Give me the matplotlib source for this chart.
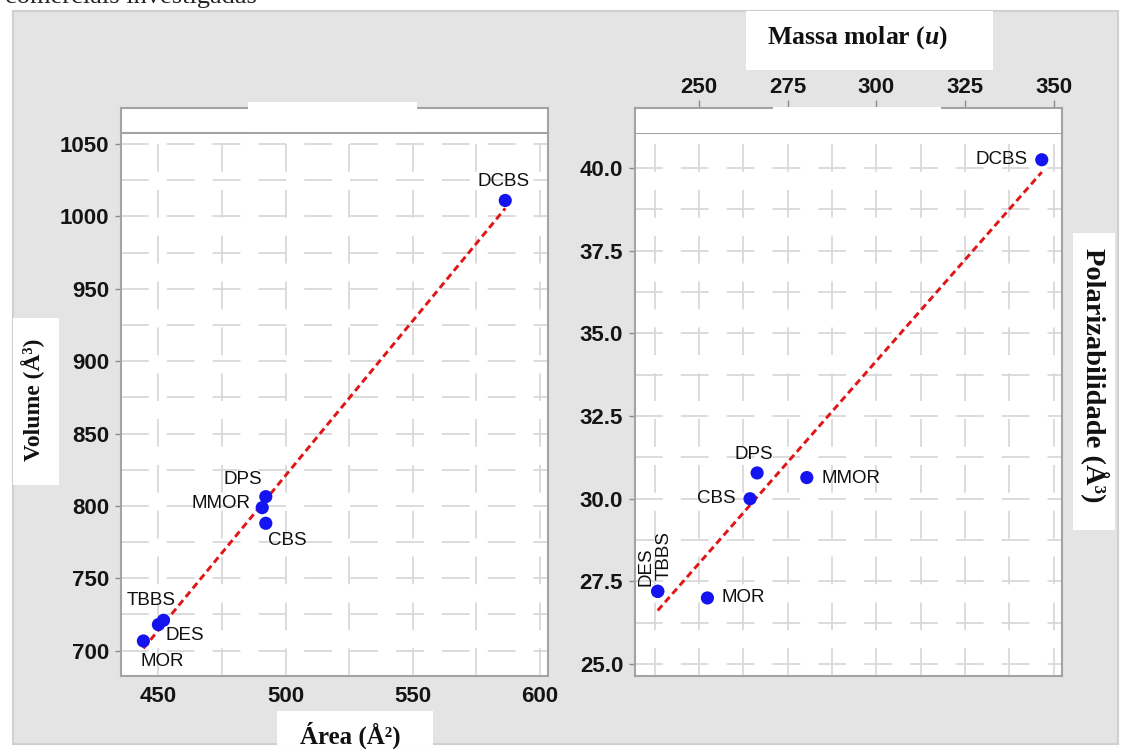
import matplotlib
matplotlib.use('Agg')
import matplotlib.pyplot as plt
import numpy as np
from matplotlib.patches import Rectangle
from matplotlib.ticker import MultipleLocator, FormatStrFormatter

# ---------------- data ----------------
compounds = ['MOR', 'TBBS', 'DES', 'CBS', 'MMOR', 'DPS', 'DCBS']
area = [444.1, 452.0, 450.0, 492.2, 490.8, 492.2, 586.3]           # Å²
volume = [706.7, 721.0, 718.0, 788.0, 798.8, 806.4, 1011.0]       # Å³
molar_mass = [252.4, 238.4, 238.4, 264.4, 280.4, 266.4, 346.6]    # u
polarizability = [27.0, 27.2, 27.2, 30.0, 30.64, 30.78, 40.25]    # Å³

# label placement (offset in pixels, ha, va, rotation)
left_lab = {
    'DCBS': (-2, 19, 'center', 'center', 0),
    'DPS': (-23, 17, 'center', 'center', 0),
    'MMOR': (-12, 4, 'right', 'center', 0),
    'CBS': (22, -17, 'center', 'center', 0),
    'TBBS': (-12, 20, 'center', 'center', 0),
    'DES': (26, -11, 'center', 'center', 0),
    'MOR': (19, -21, 'center', 'center', 0),
}
right_lab = {
    'DCBS': (-14, 0, 'right', 'center', 0),
    'DPS': (-3, 18, 'center', 'center', 0),
    'MMOR': (15, -1, 'left', 'center', 0),
    'CBS': (-14, 0, 'right', 'center', 0),
    'MOR': (14, 0, 'left', 'center', 0),
    'DES': (-12, 5, 'center', 'bottom', 90),
    'TBBS': (6, 11, 'center', 'bottom', 90),
}

plt.rcParams['lines.scale_dashes'] = False
plt.rcParams['font.family'] = ['Liberation Sans', 'DejaVu Sans']
plt.rcParams['font.weight'] = 'bold'
plt.rcParams['mathtext.fontset'] = 'custom'
plt.rcParams['mathtext.it'] = 'Liberation Serif:bold:italic'
plt.rcParams['mathtext.rm'] = 'Liberation Serif:bold'

W, H = 1126, 749
fig = plt.figure(figsize=(W / 100, H / 100), dpi=100)
fig.patch.set_facecolor('white')


def frect(x0, y0, x1, y1):
    return [x0 / W, 1 - y1 / H, (x1 - x0) / W, (y1 - y0) / H]


def box(x0, y0, x1, y1, fc, ec='none', lw=0, z=-5):
    r = Rectangle((x0 / W, 1 - y1 / H), (x1 - x0) / W, (y1 - y0) / H,
                  transform=fig.transFigure, facecolor=fc, edgecolor=ec,
                  linewidth=lw, zorder=z)
    fig.add_artist(r)


# gray background
box(13, 11, 1118, 744, '#e4e4e4', '#d0d0d0', 1.5, z=-10)

# caption (cut at top, as in the source page)
fig.text(5 / W, 1 - 3 / H, 'comerciais investigadas', family='Liberation Serif',
         fontsize=19, weight='normal', va='baseline', ha='left', color='#222222')

SPINE = '#a3a3a3'
GRID = '#d9d9d9'
DASH = (0, (20, 13))
TICKC = '#8c8c8c'
LABC = '#141414'
BLUE = '#1414f0'
RED = '#e01515'
TICKFS = 16


def style_spines(ax, which=('left', 'right', 'top', 'bottom')):
    for s, sp in ax.spines.items():
        if s in which:
            sp.set_color(SPINE)
            sp.set_linewidth(1.5)
        else:
            sp.set_visible(False)


def fit_line(ax, x, y):
    x = np.asarray(x)
    y = np.asarray(y)
    b, a = np.polyfit(x, y, 1)
    xs = np.array([x.min(), x.max()])
    ax.plot(xs, a + b * xs, color=RED, lw=2.1, linestyle=(0, (5, 3)), zorder=2)


def put_labels(ax, x, y, spec):
    for name, xi, yi in zip(compounds, x, y):
        dx, dy, ha, va, rot = spec[name]
        ax.annotate(name, (xi, yi), xytext=(dx, dy), textcoords='offset pixels',
                    ha=ha, va=va, rotation=rot, fontsize=13.5, weight='normal',
                    color='#101010', zorder=4)


# ---------------- left panel ----------------
axLt = fig.add_axes(frect(121, 108, 548, 133.3))
axLt.set_xticks([])
axLt.set_yticks([])
style_spines(axLt, ('left', 'right', 'top'))

axL = fig.add_axes(frect(121, 133.3, 548, 676))
axL.set_xlim(435.3, 603.1)
axL.set_ylim(682.5, 1057.4)
axL.xaxis.set_major_locator(MultipleLocator(50))
axL.yaxis.set_major_locator(MultipleLocator(50))
axL.xaxis.set_minor_locator(MultipleLocator(25))
axL.yaxis.set_minor_locator(MultipleLocator(25))
axL.set_axisbelow(True)
axL.grid(True, which='both', color=GRID, lw=1.3, linestyle=DASH)
axL.tick_params(which='minor', length=0)
axL.tick_params(axis='y', which='major', direction='out', length=4.5, width=1,
                color=TICKC, labelsize=TICKFS, labelcolor=LABC, pad=4)
axL.tick_params(axis='x', which='major', direction='out', length=0, width=1,
                color=TICKC, labelsize=TICKFS, labelcolor=LABC, pad=7)
style_spines(axL)

fit_line(axL, area, volume)
axL.scatter(area, volume, s=90, color=BLUE, edgecolors='none', zorder=3)
put_labels(axL, area, volume, left_lab)

# ---------------- right panel ----------------
axR = fig.add_axes(frect(635, 133.3, 1062, 676))
axR.set_xlim(232.0, 352.3)
axR.set_ylim(24.64, 41.05)
axR.xaxis.set_major_locator(MultipleLocator(25))
axR.xaxis.set_minor_locator(MultipleLocator(12.5))
axR.yaxis.set_major_locator(MultipleLocator(2.5))
axR.yaxis.set_minor_locator(MultipleLocator(1.25))
axR.yaxis.set_major_formatter(FormatStrFormatter('%.1f'))
axR.set_axisbelow(True)
axR.grid(True, which='both', color=GRID, lw=1.3, linestyle=DASH)
axR.tick_params(which='minor', length=0)
axR.tick_params(axis='x', which='both', bottom=False, labelbottom=False)
axR.tick_params(axis='y', which='major', direction='out', length=4.5, width=1,
                color=TICKC, labelsize=TICKFS, labelcolor=LABC, pad=4)
style_spines(axR)

axRt = fig.add_axes(frect(635, 108, 1062, 133.3))
axRt.set_xlim(axR.get_xlim())
axRt.xaxis.set_major_locator(MultipleLocator(25))
axRt.set_yticks([])
axRt.tick_params(axis='x', top=True, bottom=False, labeltop=True, labelbottom=False,
                 direction='out', length=5.5, width=1, color=TICKC,
                 labelsize=TICKFS, labelcolor=LABC, pad=2)
style_spines(axRt, ('left', 'right', 'top'))

fit_line(axR, molar_mass, polarizability)
axR.scatter(molar_mass, polarizability, s=90, color=BLUE, edgecolors='none', zorder=3)
put_labels(axR, molar_mass, polarizability, right_lab)

# ---------------- white label boxes & axis titles ----------------
box(248, 102, 417, 132, 'white', z=5)          # blank title box, left panel
box(773, 107, 941, 112, 'white', z=5)          # gap in right panel top frame
box(746, 11, 993, 70, 'white', z=-5)
box(277, 711, 433, 745, 'white', z=-5)
box(13, 318, 59, 485, 'white', z=-5)
box(1073, 233, 1115, 530, 'white', z=-5)

serif = dict(family='Liberation Serif', weight='bold', color='#111111', zorder=6)
fig.text(858 / W, 1 - 38 / H, r'Massa molar ($u$)', ha='center', va='center',
         fontsize=18.5, **serif)
fig.text(350 / W, 1 - 735 / H, 'Área (Å²)', ha='center', va='center',
         fontsize=18, **serif)
fig.text(33 / W, 1 - 400 / H, 'Volume (Å³)', ha='center', va='center',
         rotation=90, fontsize=17, **serif)
fig.text(1095 / W, 1 - 375 / H, 'Polarizabilidade (Å³)', ha='center', va='center',
         rotation=270, fontsize=20.5, **serif)

fig.savefig('out.png', dpi=100, facecolor='white')
